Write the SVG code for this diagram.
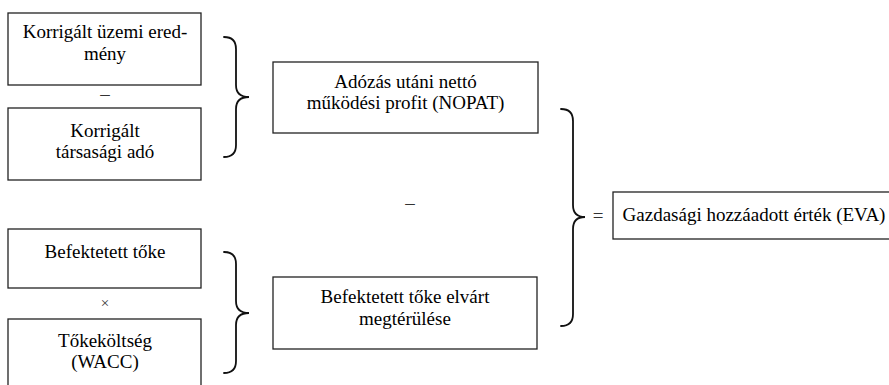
<svg xmlns="http://www.w3.org/2000/svg" width="889" height="385" viewBox="0 0 889 385">
<style>
.box{fill:#fff;stroke:#222;stroke-width:1.3}
text{font-family:'Liberation Serif','Times New Roman',serif}
.t{font-size:19px;fill:#000;text-anchor:middle}
.op{font-size:19px;fill:#333;text-anchor:middle}
.br{fill:none;stroke:#111;stroke-width:1.8;stroke-linecap:round}
</style>
<rect width="889" height="385" fill="#fff"/>
<g id="n1"><rect class="box" x="8" y="13" width="193" height="72"/><text class="t" font-family="Liberation Serif, serif" x="105" y="38">Korrigált üzemi ered-</text><text class="t" font-family="Liberation Serif, serif" x="105" y="60">mény</text></g>
<g id="n2"><rect class="box" x="8" y="108" width="193" height="72"/><text class="t" font-family="Liberation Serif, serif" x="105" y="137">Korrigált</text><text class="t" font-family="Liberation Serif, serif" x="105" y="158">társasági adó</text></g>
<g id="n3"><rect class="box" x="273" y="62" width="265" height="71"/><text class="t" font-family="Liberation Serif, serif" x="405.5" y="88">Adózás utáni nettó</text><text class="t" font-family="Liberation Serif, serif" x="405.5" y="109">működési profit (NOPAT)</text></g>
<g id="n4"><rect class="box" x="273" y="277" width="264" height="72"/><text class="t" font-family="Liberation Serif, serif" x="405" y="303">Befektetett tőke elvárt</text><text class="t" font-family="Liberation Serif, serif" x="405" y="325">megtérülése</text></g>
<g id="n5"><rect class="box" x="8" y="229" width="193" height="59"/><text class="t" font-family="Liberation Serif, serif" x="105" y="258">Befektetett tőke</text></g>
<g id="n6"><rect class="box" x="8" y="319" width="193" height="80"/><text class="t" font-family="Liberation Serif, serif" x="105" y="347">Tőkeköltség</text><text class="t" font-family="Liberation Serif, serif" x="105" y="368">(WACC)</text></g>
<g id="n7"><rect class="box" x="613" y="192" width="290" height="47"/><text class="t" font-family="Liberation Serif, serif" x="754" y="221">Gazdasági hozzáadott érték (EVA)</text></g>
<g id="operators">
<text class="op" font-family="Liberation Serif, serif" x="105" y="100">–</text>
<text class="op" font-family="Liberation Serif, serif" x="105" y="308" style="font-size:15px">×</text>
<text class="op" font-family="Liberation Serif, serif" x="410" y="209">–</text>
<text class="op" font-family="Liberation Serif, serif" x="598" y="222">=</text>
</g>
<g id="connectors">
<path class="br" d="M224 37 Q236 37 236 49 L236 85 Q236 97 249 97 Q236 97 236 109 L236 145 Q236 157 224 157"/>
<path class="br" d="M224 252 Q236 252 236 264 L236 301 Q236 313 249 313 Q236 313 236 325 L236 361 Q236 373 224 373"/>
<path class="br" d="M561 109 Q573 109 573 121 L573 205 Q573 217 585 217 Q573 217 573 229 L573 314 Q573 326 561 326"/>
</g>
</svg>
